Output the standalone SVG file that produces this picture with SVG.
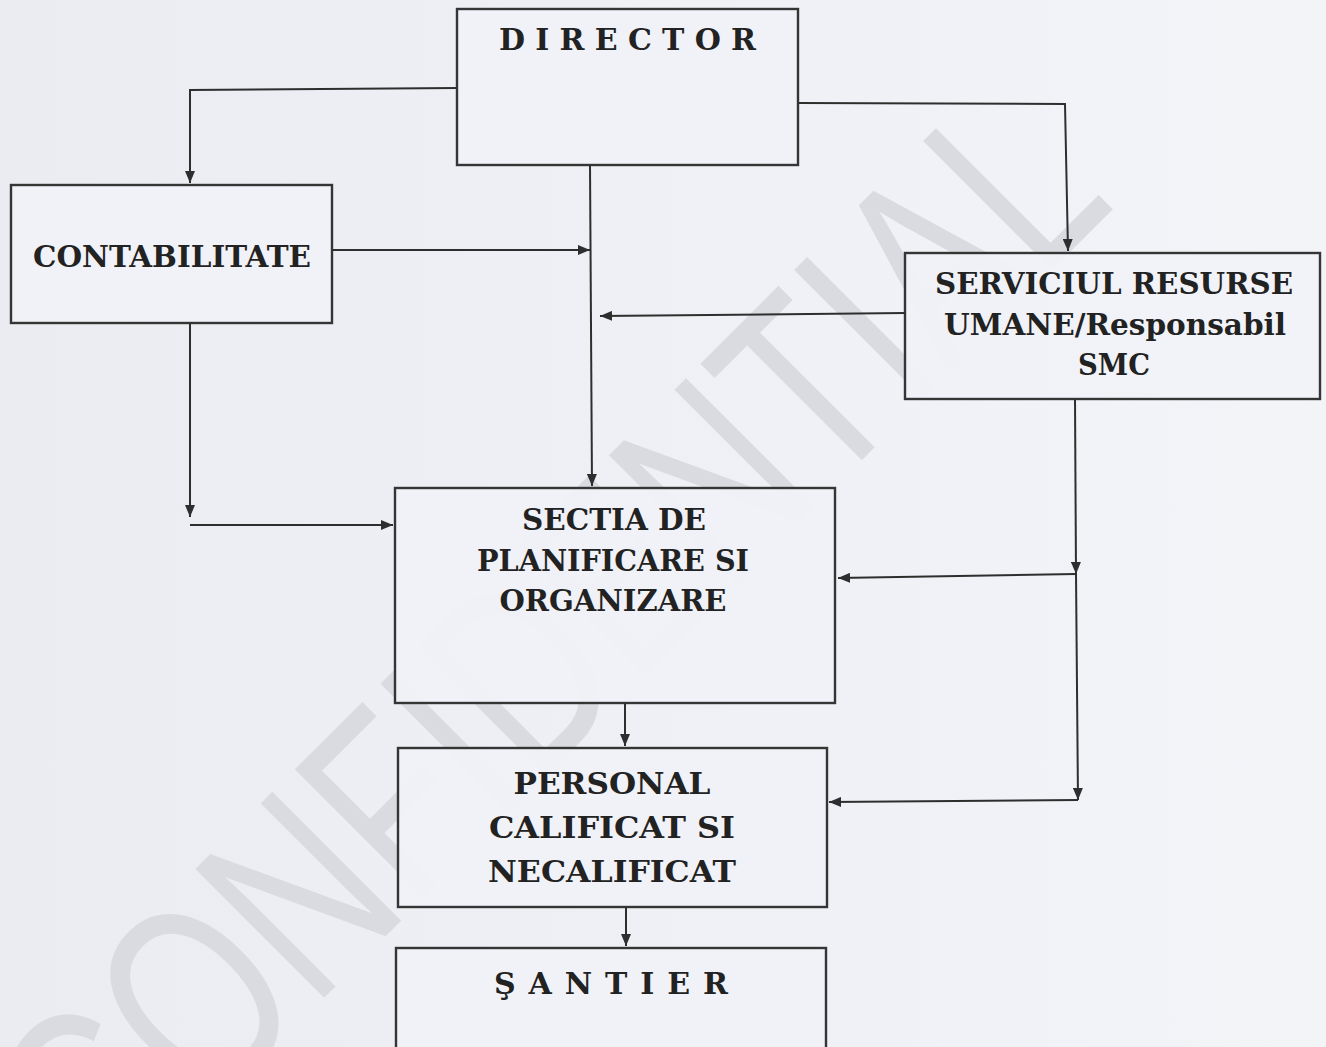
<svg xmlns="http://www.w3.org/2000/svg" width="1326" height="1047" viewBox="0 0 1326 1047">
  <defs>
    <linearGradient id="bg" x1="0" y1="0" x2="1" y2="0">
      <stop offset="0" stop-color="#ebecf2"/>
      <stop offset="1" stop-color="#f3f4f8"/>
    </linearGradient>
    <marker id="arr" viewBox="0 0 12 10" refX="12" refY="5" markerWidth="12" markerHeight="10" markerUnits="userSpaceOnUse" orient="auto">
      <path d="M0,0 L12,5 L0,10 z" fill="#2e2e2e"/>
    </marker>
    <style>
      .box { fill: #f1f2f7; fill-opacity: 0.93; stroke: #353535; stroke-width: 2.4; }
      .lbl { font-family: "DejaVu Serif", "Liberation Serif", serif; font-weight: bold; font-size: 30px; fill: #222222; }
      .c { text-anchor: middle; }
      .wire { fill: none; stroke: #2e2e2e; stroke-width: 2; }
      .wm { font-family: "Liberation Sans", Arial, sans-serif; font-size: 265px; fill: #dadbe1; }
    </style>
  </defs>

  <rect x="0" y="0" width="1326" height="1047" fill="url(#bg)"/>

  <g id="watermark">
    <text class="wm" transform="translate(106,1216) rotate(-45) scale(0.736,1)" x="0" y="0">CONFIDENTIAL</text>
  </g>

  <g id="node-director">
    <rect class="box" x="457" y="9" width="341" height="156"/>
    <text class="lbl" x="499" y="50" textLength="257" lengthAdjust="spacing">DIRECTOR</text>
  </g>

  <g id="node-contabilitate">
    <rect class="box" x="11" y="185" width="321" height="138"/>
    <text class="lbl c" x="172" y="267" textLength="278" lengthAdjust="spacingAndGlyphs">CONTABILITATE</text>
  </g>

  <g id="node-serviciul">
    <rect class="box" x="905" y="253" width="415" height="146"/>
    <text class="lbl c" x="1114" y="294" textLength="358" lengthAdjust="spacingAndGlyphs">SERVICIUL RESURSE</text>
    <text class="lbl c" x="1115" y="335" textLength="342" lengthAdjust="spacingAndGlyphs">UMANE/Responsabil</text>
    <text class="lbl c" x="1114" y="375" textLength="72" lengthAdjust="spacingAndGlyphs">SMC</text>
  </g>

  <g id="node-sectia">
    <rect class="box" x="395" y="488" width="440" height="215"/>
    <text class="lbl c" x="614" y="530" textLength="184" lengthAdjust="spacingAndGlyphs">SECTIA DE</text>
    <text class="lbl c" x="613" y="571" textLength="272" lengthAdjust="spacingAndGlyphs">PLANIFICARE SI</text>
    <text class="lbl c" x="613" y="611" textLength="227" lengthAdjust="spacingAndGlyphs">ORGANIZARE</text>
  </g>

  <g id="node-personal">
    <rect class="box" x="398" y="748" width="429" height="159"/>
    <text class="lbl c" x="612" y="794" textLength="197" lengthAdjust="spacingAndGlyphs">PERSONAL</text>
    <text class="lbl c" x="612" y="838" textLength="246" lengthAdjust="spacingAndGlyphs">CALIFICAT SI</text>
    <text class="lbl c" x="612" y="882" textLength="248" lengthAdjust="spacingAndGlyphs">NECALIFICAT</text>
  </g>

  <g id="node-santier">
    <rect class="box" x="396" y="948" width="430" height="110"/>
    <text class="lbl" x="494" y="994" textLength="234" lengthAdjust="spacing">ŞANTIER</text>
  </g>

  <g id="connectors">
    <path class="wire" d="M457,88 L190,90 L190,183" marker-end="url(#arr)"/>
    <path class="wire" d="M590,165 L592,486" marker-end="url(#arr)"/>
    <path class="wire" d="M798,103 L1065,104 L1068,251" marker-end="url(#arr)"/>
    <path class="wire" d="M332,250 L590,250" marker-end="url(#arr)"/>
    <path class="wire" d="M905,313 L600,316" marker-end="url(#arr)"/>
    <path class="wire" d="M190,323 L190,517" marker-end="url(#arr)"/>
    <path class="wire" d="M190,525 L393,525" marker-end="url(#arr)"/>
    <path class="wire" d="M1075,399 L1076,574" marker-end="url(#arr)"/>
    <path class="wire" d="M1076,574 L1078,800" marker-end="url(#arr)"/>
    <path class="wire" d="M1076,574 L838,578" marker-end="url(#arr)"/>
    <path class="wire" d="M1078,800 L829,802" marker-end="url(#arr)"/>
    <path class="wire" d="M625,703 L625,746" marker-end="url(#arr)"/>
    <path class="wire" d="M626,907 L626,946" marker-end="url(#arr)"/>
  </g>
</svg>
